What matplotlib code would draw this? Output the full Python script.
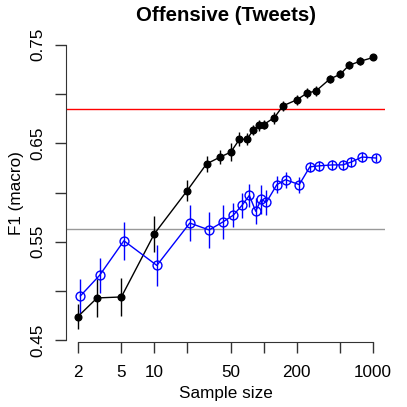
import numpy as np
import matplotlib
matplotlib.use("Agg")
import matplotlib.pyplot as plt

plt.rcParams["font.family"] = ["Liberation Sans", "DejaVu Sans"]

# sample sizes (x) shared by both series
sample_sizes = [2, 3, 5, 10, 20, 30, 40, 50, 60, 70, 80, 90, 100, 125, 150,
                200, 250, 300, 400, 500, 600, 750, 1000]

# black series (filled circles)
black_f1 = [0.474, 0.493, 0.494, 0.558, 0.602, 0.629, 0.636, 0.641, 0.654, 0.654,
            0.663, 0.668, 0.669, 0.676, 0.688, 0.694, 0.701, 0.703, 0.715, 0.720,
            0.729, 0.733, 0.737]
black_err = [0.013, 0.019, 0.019, 0.018, 0.011, 0.008, 0.007, 0.009, 0.007, 0.006,
             0.005, 0.006, 0.005, 0.006, 0.005, 0.005, 0.005, 0.005, 0.004, 0.004,
             0.004, 0.004, 0.003]

# blue series (open circles)
blue_f1 = [0.495, 0.516, 0.551, 0.526, 0.569, 0.562, 0.570, 0.577, 0.587, 0.597,
           0.581, 0.593, 0.590, 0.608, 0.613, 0.608, 0.626, 0.627, 0.628, 0.628,
           0.631, 0.636, 0.635]
blue_err = [0.017, 0.018, 0.019, 0.021, 0.018, 0.018, 0.017, 0.012, 0.013, 0.012,
            0.013, 0.015, 0.013, 0.009, 0.008, 0.008, 0.005, 0.005, 0.005, 0.005,
            0.005, 0.005, 0.004]

# reference lines
red_ref = 0.6845
gray_ref = 0.563

xticks = [2, 5, 10, 20, 50, 100, 200, 500, 1000]
xtick_labels = ["2", "5", "10", "", "50", "", "200", "", "1000"]
yticks = [0.45, 0.50, 0.55, 0.60, 0.65, 0.70, 0.75]
ytick_labels = ["0.45", "", "0.55", "", "0.65", "", "0.75"]

W = 407
FS = 12.3
fig = plt.figure(figsize=(W / 100, W / 100), dpi=100)
ax = fig.add_axes([66 / W, (W - 341.5) / W, (385 - 66) / W, (341.5 - 43.5) / W])

ax.axhline(red_ref, color="red", lw=1, zorder=1)
ax.axhline(gray_ref, color="#999999", lw=1, zorder=1)

x = np.array(sample_sizes, dtype=float)
ax.errorbar(x, black_f1, yerr=black_err, fmt="o-", color="black", ms=4.8,
            lw=1, elinewidth=1, capsize=0, zorder=3)
# blue points are nudged a little to the right so bars don't overlap
ax.errorbar(x * 1.055, blue_f1, yerr=blue_err, fmt="o-", color="blue", ms=6.4,
            mfc="none", mew=1, lw=1, elinewidth=1, capsize=0, zorder=3)

ax.set_xscale("log")
lo, hi = np.log10(2), np.log10(1000)
r = hi - lo
ax.set_xlim(10 ** (lo - 0.04 * r), 10 ** (hi + 0.04 * r))
ax.set_ylim(0.46 - 0.0112, 0.74 + 0.0112)

ax.set_xticks(xticks)
ax.set_xticklabels(xtick_labels)
ax.xaxis.set_minor_locator(matplotlib.ticker.NullLocator())
ax.set_yticks(yticks)
ax.set_yticklabels(ytick_labels, rotation=90, va="center")

for s in ["top", "right"]:
    ax.spines[s].set_visible(False)
ax.spines["left"].set_bounds(0.45, 0.75)
ax.spines["bottom"].set_bounds(2, 1000)
ax.spines["left"].set_color("#333333")
ax.spines["bottom"].set_color("#333333")
ax.tick_params(length=8, width=1, color="#333333", labelsize=FS)
ax.tick_params(axis="x", pad=8.7)
ax.tick_params(axis="y", pad=6.7)

# labels and title placed in pixel terms, R style
fig.text(225.5 / W, 1 - 398 / W, "Sample size", fontsize=FS,
         ha="center", va="baseline")
fig.text(20.5 / W, 1 - 193 / W, "F1 (macro)", fontsize=FS, rotation=90,
         ha="center", va="baseline", rotation_mode="anchor")
fig.text(225.5 / W, 1 - 20.7 / W, "Offensive (Tweets)", fontsize=14.7,
         fontweight="bold", ha="center", va="baseline")

fig.savefig("out.png", dpi=100)
